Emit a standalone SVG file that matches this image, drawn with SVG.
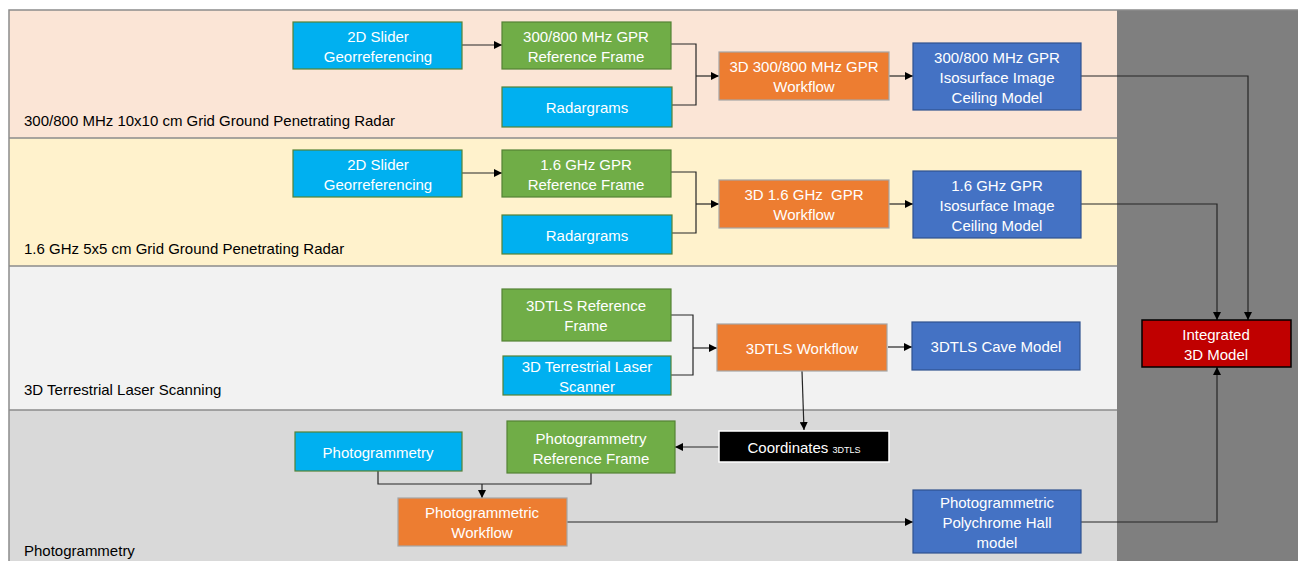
<svg xmlns="http://www.w3.org/2000/svg" width="1298" height="561" viewBox="0 0 1298 561">
<defs>
<marker id="ah" viewBox="0 0 10 10" refX="10" refY="5" markerWidth="8" markerHeight="8" markerUnits="userSpaceOnUse" orient="auto">
<path d="M0,0 L10,5 L0,10 z" fill="#000"/>
</marker>
<style>
text{font-family:"Liberation Sans",Arial,sans-serif;font-size:15px}
.nt{fill:#fff;text-anchor:middle;dominant-baseline:central}
.bl{fill:#000}
.lb{fill:#00b0f0;stroke:#548235;stroke-width:1.2}
.gr{fill:#70ad47;stroke:#548235;stroke-width:1.2}
.or{fill:#ed7d31;stroke:#a5a5a5;stroke-width:1.2}
.db{fill:#4472c4;stroke:#2f528f;stroke-width:1.2}
.c{fill:none;stroke:#262626;stroke-width:1.2}
.ca{fill:none;stroke:#262626;stroke-width:1.2;marker-end:url(#ah)}
</style>
</defs>
<g id="bands">
<rect x="9" y="10" width="1108" height="128" fill="#fbe5d6"/>
<rect x="9" y="138" width="1108" height="128" fill="#fff2cc"/>
<rect x="9" y="266" width="1108" height="144" fill="#f2f2f2"/>
<rect x="9" y="410" width="1108" height="151" fill="#d9d9d9"/>
<rect x="1117" y="10" width="181" height="551" fill="#7f7f7f"/>
<path d="M9,561 V10 H1298 M9,138 H1117 M9,266 H1117 M9,410 H1117" fill="none" stroke="#8c8c8c" stroke-width="1.5"/>
<text class="bl" x="24" y="126">300/800 MHz 10x10 cm Grid Ground Penetrating Radar</text>
<text class="bl" x="24" y="254">1.6 GHz 5x5 cm Grid Ground Penetrating Radar</text>
<text class="bl" x="24" y="395">3D Terrestrial Laser Scanning</text>
<text class="bl" x="24" y="556">Photogrammetry</text>
</g>
<g id="connectors">
<path class="ca" d="M462,45 H502"/>
<path class="c" d="M671,44 H696 V105 H672"/>
<path class="ca" d="M696,76 H719"/>
<path class="ca" d="M889,76 H913"/>
<path class="ca" d="M1081,76 H1248 V320"/>
<path class="ca" d="M462,173 H502"/>
<path class="c" d="M671,172 H696 V233 H672"/>
<path class="ca" d="M696,204 H719"/>
<path class="ca" d="M889,204 H913"/>
<path class="ca" d="M1081,204 H1217 V320"/>
<path class="c" d="M671,315 H693 V375 H671"/>
<path class="ca" d="M693,348 H717"/>
<path class="ca" d="M888,347 H912"/>
<path class="ca" d="M802,371 L804,430"/>
<path class="ca" d="M719,447 H675"/>
<path class="c" d="M378,471 V484 H591 V473"/>
<path class="ca" d="M482,484 V498"/>
<path class="ca" d="M567,522 H913"/>
<path class="ca" d="M1081,522 H1217 V367"/>
</g>
<g id="slider1"><rect class="lb" x="293" y="22" width="169" height="47"/><text class="nt" x="378" y="36">2D Slider</text><text class="nt" x="378" y="56">Georreferencing</text></g>
<g id="ref1"><rect class="gr" x="502" y="22" width="169" height="47"/><text class="nt" x="586" y="36">300/800 MHz GPR</text><text class="nt" x="586" y="56">Reference Frame</text></g>
<g id="radar1"><rect class="lb" x="502" y="87" width="170" height="40"/><text class="nt" x="587" y="107">Radargrams</text></g>
<g id="wf1"><rect class="or" x="719" y="52" width="170" height="48"/><text class="nt" x="804" y="66">3D 300/800 MHz GPR</text><text class="nt" x="804" y="86">Workflow</text></g>
<g id="iso1"><rect class="db" x="913" y="43" width="168" height="67"/><text class="nt" x="997" y="57">300/800 MHz GPR</text><text class="nt" x="997" y="77">Isosurface Image</text><text class="nt" x="997" y="97">Ceiling Model</text></g>
<g id="slider2"><rect class="lb" x="293" y="150" width="169" height="47"/><text class="nt" x="378" y="164">2D Slider</text><text class="nt" x="378" y="184">Georreferencing</text></g>
<g id="ref2"><rect class="gr" x="502" y="150" width="169" height="47"/><text class="nt" x="586" y="164">1.6 GHz GPR</text><text class="nt" x="586" y="184">Reference Frame</text></g>
<g id="radar2"><rect class="lb" x="502" y="215" width="170" height="39"/><text class="nt" x="587" y="235">Radargrams</text></g>
<g id="wf2"><rect class="or" x="719" y="180" width="170" height="48"/><text class="nt" x="804" y="194" xml:space="preserve">3D 1.6 GHz  GPR</text><text class="nt" x="804" y="214">Workflow</text></g>
<g id="iso2"><rect class="db" x="913" y="171" width="168" height="67"/><text class="nt" x="997" y="185">1.6 GHz GPR</text><text class="nt" x="997" y="205">Isosurface Image</text><text class="nt" x="997" y="225">Ceiling Model</text></g>
<g id="tlsref"><rect class="gr" x="502" y="289" width="169" height="52"/><text class="nt" x="586" y="305">3DTLS Reference</text><text class="nt" x="586" y="325">Frame</text></g>
<g id="tlsscan"><rect class="lb" x="503" y="356" width="168" height="39"/><text class="nt" x="587" y="366">3D Terrestrial Laser</text><text class="nt" x="587" y="386">Scanner</text></g>
<g id="tlswf"><rect class="or" x="717" y="324" width="170" height="47"/><text class="nt" x="802" y="348">3DTLS Workflow</text></g>
<g id="tlscave"><rect class="db" x="912" y="322" width="168" height="48"/><text class="nt" x="996" y="346">3DTLS Cave Model</text></g>
<g id="coords"><rect x="719" y="431" width="170" height="31" fill="#000" stroke="#fff" stroke-width="1.5"/><text x="804" y="447" fill="#fff" text-anchor="middle" dominant-baseline="central">Coordinates <tspan font-size="9" dy="3">3DTLS</tspan></text></g>
<g id="photo"><rect class="lb" x="295" y="432" width="167" height="39"/><text class="nt" x="378" y="452">Photogrammetry</text></g>
<g id="photoref"><rect class="gr" x="507" y="421" width="168" height="52"/><text class="nt" x="591" y="438">Photogrammetry</text><text class="nt" x="591" y="458">Reference Frame</text></g>
<g id="photowf"><rect class="or" x="398" y="498" width="169" height="48"/><text class="nt" x="482" y="512">Photogrammetric</text><text class="nt" x="482" y="532">Workflow</text></g>
<g id="photomodel"><rect class="db" x="913" y="490" width="168" height="63"/><text class="nt" x="997" y="502">Photogrammetric</text><text class="nt" x="997" y="522">Polychrome Hall</text><text class="nt" x="997" y="542">model</text></g>
<g id="integrated"><rect x="1142" y="320" width="149" height="47" fill="#c00000" stroke="#000" stroke-width="1.5"/><text class="nt" x="1216" y="334">Integrated</text><text class="nt" x="1216" y="354">3D Model</text></g>
</svg>
